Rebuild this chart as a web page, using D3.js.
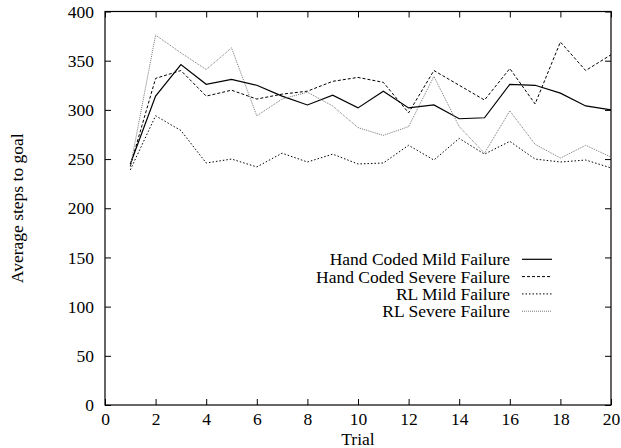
<!DOCTYPE html>
<html>
<head>
<meta charset="utf-8">
<script src="https://cdn.jsdelivr.net/npm/d3@7"></script>
<style>
  body { margin: 0; background: #fff; }
</style>
</head>
<body>
<svg width="621" height="448"></svg>
<script>
const trials = d3.range(1, 21);
const handMild   = [245, 314, 346, 326, 331, 325, 314, 305, 315, 302, 319, 302, 305, 291, 292, 326, 325, 317, 304, 300];
const handSevere = [243, 332, 340, 314, 320, 311, 316, 319, 329, 333, 328, 297, 340, 325, 310, 342, 306, 369, 340, 356];
const rlMild     = [239, 294, 279, 246, 250, 242, 256, 247, 255, 245, 246, 264, 249, 271, 255, 268, 250, 247, 249, 241];
const rlSevere   = [242, 376, 358, 341, 363, 294, 311, 318, 304, 282, 274, 283, 334, 283, 256, 299, 265, 251, 264, 252];
const seriesNames = ['Hand Coded Mild Failure', 'Hand Coded Severe Failure', 'RL Mild Failure', 'RL Severe Failure'];
const xTicks = d3.range(0, 21, 2);
const yTicks = d3.range(0, 401, 50);

const [pl, pr, pt, pb] = [105, 611, 11.5, 405];
const serif = "'Liberation Serif'";
const fs = '17.5px';
const svg = d3.select('svg');

const x = d3.scaleLinear().domain([0, 20]).range([pl, pr]);
const y = d3.scaleLinear().domain([0, 400]).range([pb, pt]);

// styles per series (gnuplot-ish)
const styles = [
  {stroke: '#000', dash: null, width: 1.2},
  {stroke: '#000', dash: '3,2', width: 1},
  {stroke: '#000', dash: '1.5,2', width: 1},
  {stroke: '#777', dash: '1,1', width: 1}
];
const allSeries = [handMild, handSevere, rlMild, rlSevere];

// axes: ticks inward, mirrored on top/right
const fixAxis = g => {
  g.select('.domain').remove();
  g.selectAll('.tick line').attr('stroke', '#000');
  g.selectAll('.tick text').style('font-family', serif).style('font-size', fs).attr('fill', '#000');
};
svg.append('g').attr('transform', `translate(0,${pb})`)
  .call(d3.axisBottom(x).tickValues(xTicks).tickSize(-6).tickPadding(7.5))
  .call(fixAxis);
svg.append('g').attr('transform', `translate(0,${pt})`)
  .call(d3.axisTop(x).tickValues(xTicks).tickSize(-6).tickFormat(''))
  .call(fixAxis);
svg.append('g').attr('transform', `translate(${pl},0)`)
  .call(d3.axisLeft(y).tickValues(yTicks).tickSize(-6).tickPadding(11))
  .call(fixAxis);
svg.append('g').attr('transform', `translate(${pr},0)`)
  .call(d3.axisRight(y).tickValues(yTicks).tickSize(-6).tickFormat(''))
  .call(fixAxis);

svg.append('rect')
  .attr('x', pl).attr('y', pt)
  .attr('width', pr - pl).attr('height', pb - pt)
  .attr('fill', 'none').attr('stroke', '#000').attr('stroke-width', 1.2);

const line = d3.line().x((d, i) => x(trials[i])).y(d => y(d));

allSeries.forEach((s, k) => {
  svg.append('path')
    .datum(s)
    .attr('d', line)
    .attr('fill', 'none')
    .attr('stroke', styles[k].stroke)
    .attr('stroke-width', styles[k].width)
    .attr('stroke-dasharray', styles[k].dash);
});

// legend
const legend = svg.append('g');
seriesNames.forEach((name, k) => {
  const ly = 259.3 + k * 17.3;
  legend.append('text')
    .attr('x', 510).attr('y', ly).attr('dy', '0.35em')
    .attr('text-anchor', 'end')
    .style('font-family', serif).style('font-size', fs)
    .text(name);
  legend.append('line')
    .attr('x1', 522).attr('x2', 552).attr('y1', ly).attr('y2', ly)
    .attr('stroke', styles[k].stroke)
    .attr('stroke-width', styles[k].width)
    .attr('stroke-dasharray', styles[k].dash);
});

// axis titles
svg.append('text')
  .attr('x', (pl + pr) / 2).attr('y', 438.5).attr('dy', '0.35em')
  .attr('text-anchor', 'middle')
  .style('font-family', serif).style('font-size', fs)
  .text('Trial');
svg.append('text')
  .attr('transform', `translate(17,${(pt + pb) / 2}) rotate(-90)`)
  .attr('dy', '0.35em')
  .attr('text-anchor', 'middle')
  .style('font-family', serif).style('font-size', fs)
  .text('Average steps to goal');
</script>
</body>
</html>
